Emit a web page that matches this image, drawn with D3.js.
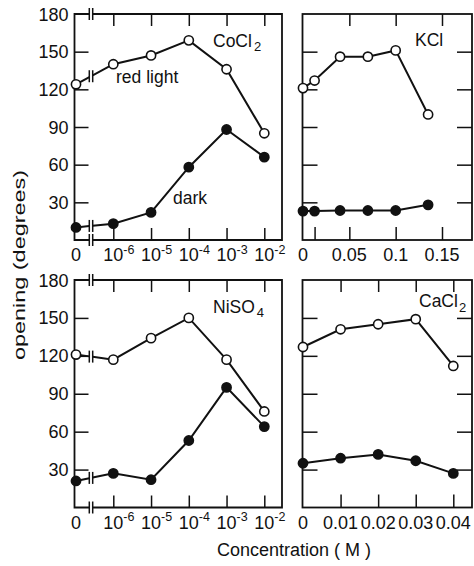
<!DOCTYPE html>
<html>
<head>
<meta charset="utf-8">
<script src="https://cdn.jsdelivr.net/npm/d3@7"></script>
<style>
  body { margin: 0; background: #fff; }
  svg text { font-family: "Liberation Sans", Arial, sans-serif; fill: #111; }
</style>
</head>
<body>
<svg id="chart" width="474" height="566"></svg>
<script>
// values
const logTicks = [1e-6, 1e-5, 1e-4, 1e-3, 1e-2];
const logTickLabels = ['-6', '-5', '-4', '-3', '-2'];
const logConc = [0, 1e-6, 1e-5, 1e-4, 1e-3, 1e-2];

const coRed = [124, 140, 147, 159, 136, 85];
const coDark = [10, 13, 22, 58, 88, 66];
const niRed = [121, 117, 134, 150, 117, 76];
const niDark = [21, 27, 22, 53, 95, 64];

const kclConc = [0, 0.0125, 0.04, 0.07, 0.1, 0.135];
const kclRed = [121, 127, 146, 146, 151, 100];
const kclDark = [23, 23, 23.5, 23.5, 23.5, 28];
const kclTicks = [0.0125, 0.05, 0.1, 0.15];
const kclLabels = ['0', '0.05', '0.1', '0.15'];
const kclLabelAt = [0, 0.05, 0.1, 0.15];

const caConc = [0, 0.01, 0.02, 0.03, 0.04];
const caRed = [127, 141, 145, 149, 112];
const caDark = [35, 39, 42, 37, 27];
const caTicks = [0.01, 0.02, 0.03, 0.04];
const caLabels = ['0', '0.01', '0.02', '0.03', '0.04'];
const caLabelAt = [0, 0.01, 0.02, 0.03, 0.04];

const yTicks = [30, 60, 90, 120, 150];
const yLabels = [30, 60, 90, 120, 150, 180];

const svg = d3.select('#chart');
const ink = '#111';
const fs = 18;

// panels layout
const rows = [{top: 14, bottom: 240}, {top: 280, bottom: 507.5}];
const leftX = {l: 74.5, r: 282};
const rightX = {l: 302.5, r: 472};

function yScaleFor(row) {
    return d3.scaleLinear().domain([0, 180]).range([row.bottom, row.top]);
}

const xLog = d3.scaleLog().domain([1e-6, 1e-2]).range([113.3, 264.3]);
const xLogPos = v => v === 0 ? leftX.l + 1.5 : xLog(v);
const breakX = 91;

function breakMark(g, x, y, h) {
    [-1.7, 1.7].forEach(dx => {
        g.append('line')
            .attr('x1', x + dx).attr('x2', x + dx)
            .attr('y1', y - h / 2).attr('y2', y + h / 2)
            .attr('stroke', ink).attr('stroke-width', 1.5);
    });
}

function drawLogPanel(row, red, dark, name, sub, labPos) {
    const y = yScaleFor(row);
    const g = svg.append('g');
    const L = leftX.l, R = leftX.r, T = row.top, B = row.bottom;

    // frame with axis breaks
    const frame = d3.path();
    frame.moveTo(breakX - 1.7, T); frame.lineTo(L, T); frame.lineTo(L, B); frame.lineTo(breakX - 1.7, B);
    frame.moveTo(breakX + 1.7, T); frame.lineTo(R, T); frame.lineTo(R, B); frame.lineTo(breakX + 1.7, B);
    g.append('path').attr('d', frame.toString())
        .attr('fill', 'none').attr('stroke', ink).attr('stroke-width', 1.8);
    breakMark(g, breakX, T, 12);
    breakMark(g, breakX, B, 12);

    // ticks
    const xb = d3.axisBottom(xLog).tickValues(logTicks).tickSize(-12).tickFormat('');
    const xt = d3.axisTop(xLog).tickValues(logTicks).tickSize(-12).tickFormat('');
    const yl = d3.axisLeft(y).tickValues(yTicks).tickSize(-14).tickFormat('');
    g.append('g').attr('transform', `translate(0,${B})`).call(xb);
    g.append('g').attr('transform', `translate(0,${T})`).call(xt);
    g.append('g').attr('transform', `translate(${L},0)`).call(yl);

    // tick labels
    g.append('text').attr('x', xLogPos(0)).attr('y', B + 21)
        .attr('text-anchor', 'middle').attr('font-size', fs).text('0');
    logTicks.forEach((v, i) => {
        const t = g.append('text').attr('x', xLog(v) - 10).attr('y', B + 21).attr('font-size', fs);
        t.append('tspan').text('10');
        t.append('tspan').attr('font-size', 12.5).attr('dy', -7.5).text(logTickLabels[i]);
    });
    yLabels.forEach(v => {
        g.append('text').attr('x', 68.5).attr('y', y(v) + 6.5)
            .attr('text-anchor', 'end').attr('font-size', fs).text(v);
    });

    drawSeries(g, logConc, red, dark, xLogPos, y, true);

    const lab = g.append('text').attr('x', labPos[0]).attr('y', labPos[1]).attr('font-size', 17.5);
    lab.append('tspan').text(name);
    lab.append('tspan').attr('font-size', 13).attr('dy', 4).attr('dx', 2).text(sub);
    return g;
}

function drawLinPanel(row, conc, red, dark, maxX, ticks, labels, labelAt, name, sub, labPos, subDy) {
    const y = yScaleFor(row);
    const g = svg.append('g');
    const L = rightX.l, R = rightX.r, T = row.top, B = row.bottom;
    const x = d3.scaleLinear().domain([0, maxX.v]).range([L + 0.5, maxX.px]);

    g.append('rect').attr('x', L).attr('y', T).attr('width', R - L).attr('height', B - T)
        .attr('fill', 'none').attr('stroke', ink).attr('stroke-width', 1.8);

    const xb = d3.axisBottom(x).tickValues(ticks).tickSize(-13).tickFormat('');
    const xt = d3.axisTop(x).tickValues(ticks.filter(v => v >= 0.01 && v !== 0.0125)).tickSize(-12).tickFormat('');
    const yl = d3.axisLeft(y).tickValues(yTicks).tickSize(-15).tickFormat('');
    const yr = d3.axisRight(y).tickValues(yTicks).tickSize(-15).tickFormat('');
    g.append('g').attr('transform', `translate(0,${B})`).call(xb);
    g.append('g').attr('transform', `translate(0,${T})`).call(xt);
    g.append('g').attr('transform', `translate(${L},0)`).call(yl);
    g.append('g').attr('transform', `translate(${R},0)`).call(yr);

    labelAt.forEach((v, i) => {
        g.append('text').attr('x', x(v)).attr('y', B + 21)
            .attr('text-anchor', 'middle').attr('font-size', fs).text(labels[i]);
    });

    drawSeries(g, conc, red, dark, x, y, false);

    const lab = g.append('text').attr('x', labPos[0]).attr('y', labPos[1]).attr('font-size', 17.5);
    lab.append('tspan').text(name);
    if (sub) lab.append('tspan').attr('font-size', 13).attr('dy', subDy).attr('dx', 1).text(sub);
    return g;
}

function drawSeries(g, conc, red, dark, xf, y, broken) {
    [red, dark].forEach((vals, k) => {
        const pts = conc.map((c, i) => [xf(c), y(vals[i])]);
        const line = d3.line();
        if (broken) {
            // first segment interrupted at the axis break
            const [p0, p1] = pts;
            const at = xx => p0[1] + (p1[1] - p0[1]) * (xx - p0[0]) / (p1[0] - p0[0]);
            const a = [breakX - 1.7, at(breakX - 1.7)], b = [breakX + 1.7, at(breakX + 1.7)];
            g.append('path').attr('d', line([p0, a])).attr('fill', 'none').attr('stroke', ink).attr('stroke-width', 2);
            g.append('path').attr('d', line([b].concat(pts.slice(1)))).attr('fill', 'none').attr('stroke', ink).attr('stroke-width', 2);
            breakMark(g, breakX, at(breakX), 12);
        } else {
            g.append('path').attr('d', line(pts)).attr('fill', 'none').attr('stroke', ink).attr('stroke-width', 2);
        }
        g.selectAll(null).data(pts).enter().append('circle')
            .attr('cx', d => d[0]).attr('cy', d => d[1]).attr('r', 4.6)
            .attr('fill', k === 0 ? '#fff' : ink)
            .attr('stroke', ink).attr('stroke-width', 1.6);
    });
}

drawLogPanel(rows[0], coRed, coDark, 'CoCl', '2', [213, 47]);
drawLogPanel(rows[1], niRed, niDark, 'NiSO', '4', [213, 313]);
drawLinPanel(rows[0], kclConc, kclRed, kclDark, {v: 0.15, px: 442}, kclTicks, kclLabels, kclLabelAt, 'KCl', '', [415, 46], 0);
drawLinPanel(rows[1], caConc, caRed, caDark, {v: 0.04, px: 453.3}, caTicks, caLabels, caLabelAt, 'CaCl', '2', [419, 307], 5);
// frames are drawn by hand, drop the axis domain paths
svg.selectAll('.domain').remove();
svg.selectAll('.tick line').attr('stroke', ink).attr('stroke-width', 1.5);

// annotations and axis titles
svg.append('text').attr('x', 116).attr('y', 83).attr('font-size', 17.5).text('red light');
svg.append('text').attr('x', 173).attr('y', 204).attr('font-size', 17.5).text('dark');
svg.append('text').attr('transform', 'translate(25,265) rotate(-90)')
    .attr('text-anchor', 'middle').attr('font-size', 17)
    .attr('textLength', 190).attr('lengthAdjust', 'spacingAndGlyphs')
    .text('opening (degrees)');
svg.append('text').attr('x', 294).attr('y', 556)
    .attr('text-anchor', 'middle').attr('font-size', 18).text('Concentration ( M )');
</script>
</body>
</html>
